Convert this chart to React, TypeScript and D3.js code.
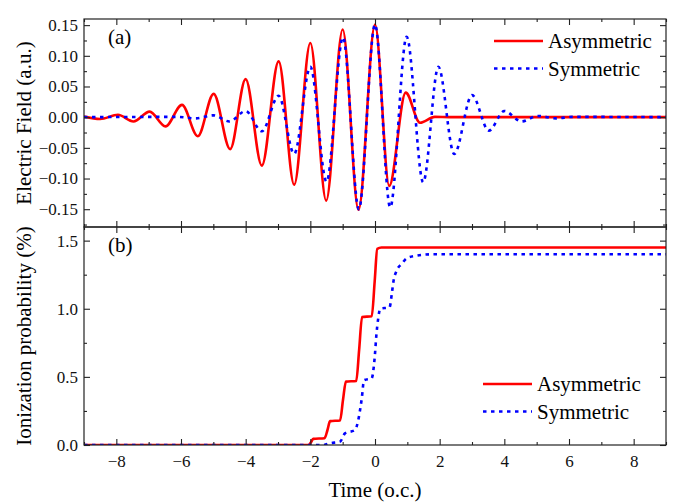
import React, { useEffect, useRef } from 'react';
import * as d3 from 'd3';

const width = 683;
const height = 502;
const margin = { left: 84, right: 17, top: 19, bottom: 57 };
const split = 227; // boundary between panel (a) and panel (b)
const font = "'Liberation Serif', 'Times New Roman', Times, serif";

// panel (a): electric field, [time (o.c.), field (a.u.)] at the extrema
const asymmetricField: [number, number][] = [
	[-9, 0.001], [-8.5, -0.003], [-7.95, 0.004], [-7.47, -0.007], [-6.97, 0.009],
	[-6.48, -0.015], [-5.97, 0.02], [-5.48, -0.031], [-4.99, 0.038], [-4.48, -0.052],
	[-4.0, 0.062], [-3.5, -0.079], [-2.98, 0.091], [-2.5, -0.11], [-2.0, 0.121],
	[-1.51, -0.136], [-1.0, 0.143], [-0.51, -0.151], [0.0, 0.151], [0.44, -0.112],
	[0.95, 0.04], [1.39, -0.009], [1.85, 0.0005], [2.3, 0], [9, 0],
];
const symmetricField: [number, number][] = [
	[-9, 0], [-6.1, 0.0005], [-5.55, -0.002], [-5.0, 0.003], [-4.5, -0.007],
	[-4.0, 0.01], [-3.5, -0.023], [-2.98, 0.035], [-2.5, -0.06], [-2.0, 0.082],
	[-1.5, -0.105], [-0.99, 0.13], [-0.5, -0.15], [0.0, 0.151], [0.47, -0.147],
	[0.98, 0.131], [1.49, -0.106], [1.96, 0.082], [2.45, -0.06], [3.0, 0.036],
	[3.52, -0.022], [4.0, 0.01], [4.53, -0.007], [5.03, 0.002], [5.6, -0.002],
	[6.1, 0.0005], [9, 0],
];

// panel (b): ionization probability (%)
const asymmetricProb: [number, number][] = [
	[-9, 0], [-2.05, 0], [-1.98, 0.02], [-1.91, 0.045], [-1.56, 0.05], [-1.47, 0.11],
	[-1.39, 0.175], [-1.08, 0.18], [-0.99, 0.33], [-0.9, 0.465], [-0.58, 0.47],
	[-0.49, 0.7], [-0.4, 0.94], [-0.1, 0.945], [-0.01, 1.2], [0.07, 1.44], [0.2, 1.45],
	[9, 1.45],
];
const symmetricProb: [number, number][] = [
	[-9, 0], [-1.6, 0], [-1.39, 0.013], [-1.08, 0.025], [-0.93, 0.085], [-0.62, 0.11],
	[-0.52, 0.18], [-0.46, 0.26], [-0.41, 0.34], [-0.34, 0.475], [-0.1, 0.49],
	[-0.04, 0.57], [0.0, 0.67], [0.04, 0.8], [0.1, 0.93], [0.16, 1.0], [0.45, 1.01],
	[0.52, 1.11], [0.57, 1.2], [0.67, 1.28], [0.83, 1.33], [0.98, 1.37], [1.29, 1.39],
	[1.8, 1.4], [9, 1.4],
];

const timeTicks = [-8, -6, -4, -2, 0, 2, 4, 6, 8];
const timeMinor = [-9, -7, -5, -3, -1, 1, 3, 5, 7, 9];
const fieldTicks = [-0.15, -0.1, -0.05, 0, 0.05, 0.1, 0.15];
const fieldMinor = [-0.175, -0.125, -0.075, -0.025, 0.025, 0.075, 0.125];
const probTicks = [0, 0.5, 1, 1.5];
const probMinor = [0.25, 0.75, 1.25];

const seriesNames = ['Asymmetric', 'Symmetric'];
const colors = ['#ff0000', '#0000ff'];
const dash = ['none', '3.5,4.5'];

export default function App() {
	const node = useRef<SVGSVGElement>(null);

	useEffect(() => {
		const svg = d3.select(node.current);
		svg.selectAll('*').remove();
		svg.attr('font-family', font);

		const x = d3.scaleLinear().domain([-9, 9]).range([margin.left, width - margin.right]);
		const yField = d3.scaleLinear().domain([-0.179, 0.16]).range([split, margin.top]);
		const yProb = d3.scaleLinear().domain([0, 1.6]).range([height - margin.bottom, split]);

		const panels = [
			{ y: yField, top: margin.top, bottom: split, ticks: fieldTicks, minor: fieldMinor, fmt: '.2f', data: [asymmetricField, symmetricField], id: 'a' },
			{ y: yProb, top: split, bottom: height - margin.bottom, ticks: probTicks, minor: probMinor, fmt: '.1f', data: [asymmetricProb, symmetricProb], id: 'b' },
		];

		panels.forEach((p, pi) => {
			const g = svg.append('g');
			g.append('clipPath')
				.attr('id', 'clip-' + p.id)
				.append('rect')
				.attr('x', margin.left)
				.attr('y', p.top)
				.attr('width', width - margin.left - margin.right)
				.attr('height', p.bottom - p.top);

			// lines
			const line = d3
				.line<[number, number]>()
				.x(d => x(d[0]))
				.y(d => p.y(d[1]))
				.curve(d3.curveMonotoneX);
			p.data.forEach((series, i) => {
				g.append('path')
					.datum(series)
					.attr('clip-path', `url(#clip-${p.id})`)
					.attr('fill', 'none')
					.attr('stroke', colors[i])
					.attr('stroke-width', 2.6)
					.attr('stroke-dasharray', dash[i])
					.attr('d', line);
			});

			// axes, ticks pointing inwards on all four sides
			const addAxis = (axis: any, tx: number, ty: number) => {
				const a = g.append('g').attr('transform', `translate(${tx},${ty})`).call(axis);
				a.attr('font-family', font);
				a.select('.domain').remove();
				a.selectAll('line').attr('stroke', '#222').attr('stroke-width', 1.1);
				a.selectAll('text').attr('font-family', font).attr('font-size', 17).attr('fill', '#111');
				return a;
			};
			addAxis(d3.axisLeft(p.y).tickValues(p.ticks).tickSize(-6).tickPadding(6).tickFormat(d3.format(p.fmt)), margin.left, 0);
			addAxis(d3.axisLeft(p.y).tickValues(p.minor).tickSize(-3).tickFormat(() => ''), margin.left, 0);
			addAxis(d3.axisRight(p.y).tickValues(p.ticks).tickSize(-6).tickFormat(() => ''), width - margin.right, 0);
			addAxis(d3.axisRight(p.y).tickValues(p.minor).tickSize(-3).tickFormat(() => ''), width - margin.right, 0);
			addAxis(d3.axisTop(x).tickValues(timeTicks).tickSize(-6).tickFormat(() => ''), 0, p.top);
			addAxis(d3.axisTop(x).tickValues(timeMinor).tickSize(-3).tickFormat(() => ''), 0, p.top);
			addAxis(
				d3.axisBottom(x).tickValues(timeTicks).tickSize(-6).tickPadding(10).tickFormat(pi === 1 ? d3.format('d') : () => ''),
				0,
				p.bottom
			);
			addAxis(d3.axisBottom(x).tickValues(timeMinor).tickSize(-3).tickFormat(() => ''), 0, p.bottom);

			g.append('rect')
				.attr('x', margin.left)
				.attr('y', p.top)
				.attr('width', width - margin.left - margin.right)
				.attr('height', p.bottom - p.top)
				.attr('fill', 'none')
				.attr('stroke', '#222')
				.attr('stroke-width', 1.2);

			// panel tag
			g.append('text')
				.attr('x', 108)
				.attr('y', p.top + 25)
				.attr('font-family', font)
				.attr('font-size', 21)
				.text(`(${p.id})`);
		});

		// legends
		const legends = [
			{ x0: 494, y0: 41 },
			{ x0: 483, y0: 384 },
		];
		legends.forEach(l => {
			seriesNames.forEach((name, i) => {
				const ly = l.y0 + i * 27.5;
				svg.append('line')
					.attr('x1', l.x0)
					.attr('x2', l.x0 + 49)
					.attr('y1', ly)
					.attr('y2', ly)
					.attr('stroke', colors[i])
					.attr('stroke-width', 2.6)
					.attr('stroke-dasharray', dash[i]);
				svg.append('text')
					.attr('x', l.x0 + 54)
					.attr('y', ly + 7)
					.attr('font-family', font)
					.attr('font-size', 21)
					.text(name);
			});
		});

		// axis titles
		svg.append('text')
			.attr('x', (margin.left + width - margin.right) / 2)
			.attr('y', 497)
			.attr('text-anchor', 'middle')
			.attr('font-family', font)
			.attr('font-size', 21)
			.text('Time (o.c.)');
		svg.append('text')
			.attr('transform', `translate(31,${(margin.top + split) / 2}) rotate(-90)`)
			.attr('text-anchor', 'middle')
			.attr('font-family', font)
			.attr('font-size', 21)
			.text('Electric Field (a.u.)');
		svg.append('text')
			.attr('transform', `translate(31,${(split + height - margin.bottom) / 2}) rotate(-90)`)
			.attr('text-anchor', 'middle')
			.attr('font-family', font)
			.attr('font-size', 21)
			.text('Ionization probability (%)');
	}, []);

	return (
		<svg
			ref={node}
			width={width}
			height={height}
			style={{ position: 'absolute', left: 0, top: 0, background: '#fff' }}
		/>
	);
}
